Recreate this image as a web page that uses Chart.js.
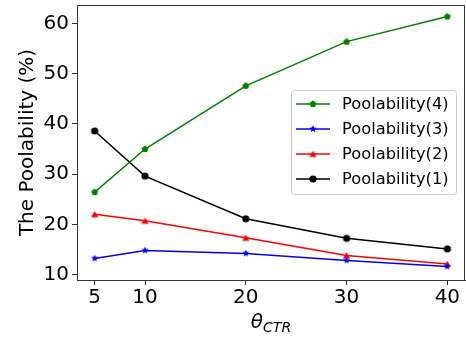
<!DOCTYPE html>
<html>
<head>
<meta charset="utf-8">
<script src="https://cdn.jsdelivr.net/npm/chart.js@4"></script>
<style>
  html, body { margin: 0; padding: 0; background: #fff; }
</style>
</head>
<body>
<canvas id="chart" width="466" height="339"></canvas>
<script>
// ── Data ─────────────────────────────────────────────────────────
const xValues = [5, 10, 20, 30, 40];
const xTicks = [5, 10, 20, 30, 40];
const yTicks = [10, 20, 30, 40, 50, 60];
const labels = ['Poolability(4)', 'Poolability(3)', 'Poolability(2)', 'Poolability(1)'];
const pool4 = [26.4, 35.0, 47.6, 56.4, 61.4];
const pool3 = [13.2, 14.8, 14.2, 12.8, 11.6];
const pool2 = [22.0, 20.7, 17.3, 13.8, 12.1];
const pool1 = [38.6, 29.6, 21.1, 17.2, 15.1];

const FONT = "'DejaVu Sans', sans-serif";

// small marker images, matplotlib-like filled shapes
const marker = (shape, color, r) => {
  const s = Math.ceil(r * 2 + 2);
  const cv = document.createElement('canvas');
  cv.width = s; cv.height = s;
  const c = cv.getContext('2d');
  const cx = s / 2, cy = s / 2;
  c.fillStyle = color;
  c.beginPath();
  if (shape === 'circle') {
    c.arc(cx, cy, r, 0, Math.PI * 2);
  } else {
    const n = shape === 'star' ? 10 : shape === 'pentagon' ? 5 : 3;
    for (let i = 0; i < n; i++) {
      const a = -Math.PI / 2 + i * 2 * Math.PI / n;
      const rr = shape === 'star' && i % 2 ? r * 0.45 : r;
      const px = cx + rr * Math.cos(a), py = cy + rr * Math.sin(a) + (shape === 'triangle' ? r * 0.2 : 0);
      i ? c.lineTo(px, py) : c.moveTo(px, py);
    }
    c.closePath();
  }
  c.fill();
  return cv;
};

const series = [
  { label: labels[0], values: pool4, color: '#008000', img: marker('pentagon', '#008000', 3.6) },
  { label: labels[1], values: pool3, color: '#0000ff', img: marker('star', '#0000ff', 3.8) },
  { label: labels[2], values: pool2, color: '#ff0000', img: marker('triangle', '#ff0000', 4.2) },
  { label: labels[3], values: pool1, color: '#000000', img: marker('circle', '#000000', 3.6) }
];

// ── Plugins ──────────────────────────────────────────────────────
const frame = {
  id: 'frame',
  afterDraw(chart) {
    const { ctx, chartArea: a } = chart;
    ctx.save();
    ctx.strokeStyle = '#333';
    ctx.lineWidth = 1;
    ctx.strokeRect(Math.round(a.left) + 0.5, Math.round(a.top) + 0.5, Math.round(a.right - a.left) - 1, Math.round(a.bottom - a.top));
    ctx.restore();
  }
};

const xTitle = {
  id: 'xTitle',
  afterDraw(chart) {
    const { ctx, chartArea: a } = chart;
    ctx.save();
    ctx.fillStyle = '#000';
    ctx.textBaseline = 'alphabetic';
    ctx.font = `italic 20px ${FONT}`;
    const w1 = ctx.measureText('θ').width;
    ctx.font = `italic 14px ${FONT}`;
    const w2 = ctx.measureText('CTR').width;
    const x0 = (a.left + a.right) / 2 - (w1 + w2) / 2;
    ctx.font = `italic 20px ${FONT}`;
    ctx.fillText('θ', x0, 328);
    ctx.font = `italic 14px ${FONT}`;
    ctx.fillText('CTR', x0 + w1, 332);
    ctx.restore();
  }
};

const boxLegend = {
  id: 'boxLegend',
  afterDraw(chart) {
    const { ctx } = chart;
    const bx = 291, by = 90, bw = 165, bh = 104;
    ctx.save();
    ctx.fillStyle = 'rgba(255,255,255,0.8)';
    ctx.strokeStyle = '#cccccc';
    ctx.lineWidth = 1;
    ctx.beginPath();
    ctx.roundRect(bx + 0.5, by + 0.5, bw, bh, 3);
    ctx.fill();
    ctx.stroke();
    ctx.font = `16.3px ${FONT}`;
    ctx.textBaseline = 'middle';
    series.forEach((s, i) => {
      const y = 104 + i * 25;
      ctx.strokeStyle = s.color;
      ctx.lineWidth = 1.5;
      ctx.beginPath();
      ctx.moveTo(296, y); ctx.lineTo(330, y);
      ctx.stroke();
      ctx.drawImage(s.img, 313 - s.img.width / 2, y - s.img.height / 2);
      ctx.fillStyle = '#000';
      ctx.fillText(s.label, 342, y + 1);
    });
    ctx.restore();
  }
};

// ── Chart ────────────────────────────────────────────────────────
new Chart(document.getElementById('chart'), {
  type: 'line',
  data: {
    datasets: series.map(s => ({
      label: s.label,
      data: xValues.map((x, i) => ({ x, y: s.values[i] })),
      borderColor: s.color,
      backgroundColor: s.color,
      borderWidth: 1.5,
      pointStyle: s.img,
      tension: 0
    }))
  },
  options: {
    responsive: false,
    animation: false,
    layout: { autoPadding: false, padding: { top: 5, right: 1, left: 0, bottom: 0 } },
    plugins: { legend: { display: false }, tooltip: { enabled: false } },
    scales: {
      x: {
        type: 'linear', min: 3.25, max: 41.75,
        afterBuildTicks: sc => { sc.ticks = xTicks.map(v => ({ value: v })); },
        afterFit: sc => { sc.height = 59; sc.paddingLeft = 0; sc.paddingRight = 0; },
        ticks: { color: '#000', font: { family: FONT, size: 20 }, padding: 1, maxRotation: 0 },
        grid: { drawOnChartArea: false, tickLength: 5, color: '#333' },
        border: { color: '#333', width: 1 }
      },
      y: {
        min: 8.9, max: 63.7,
        afterBuildTicks: sc => { sc.ticks = yTicks.map(v => ({ value: v })); },
        afterFit: sc => { sc.width = 77; sc.paddingTop = 0; sc.paddingBottom = 0; },
        ticks: { color: '#000', font: { family: FONT, size: 20 }, padding: 3 },
        grid: { drawOnChartArea: false, tickLength: 5, color: '#333' },
        border: { color: '#333', width: 1 },
        title: { display: true, text: 'The Poolability (%)', color: '#000', font: { family: FONT, size: 20 }, padding: { top: 16, bottom: 0 } }
      }
    }
  },
  plugins: [frame, xTitle, boxLegend]
});
</script>
</body>
</html>
